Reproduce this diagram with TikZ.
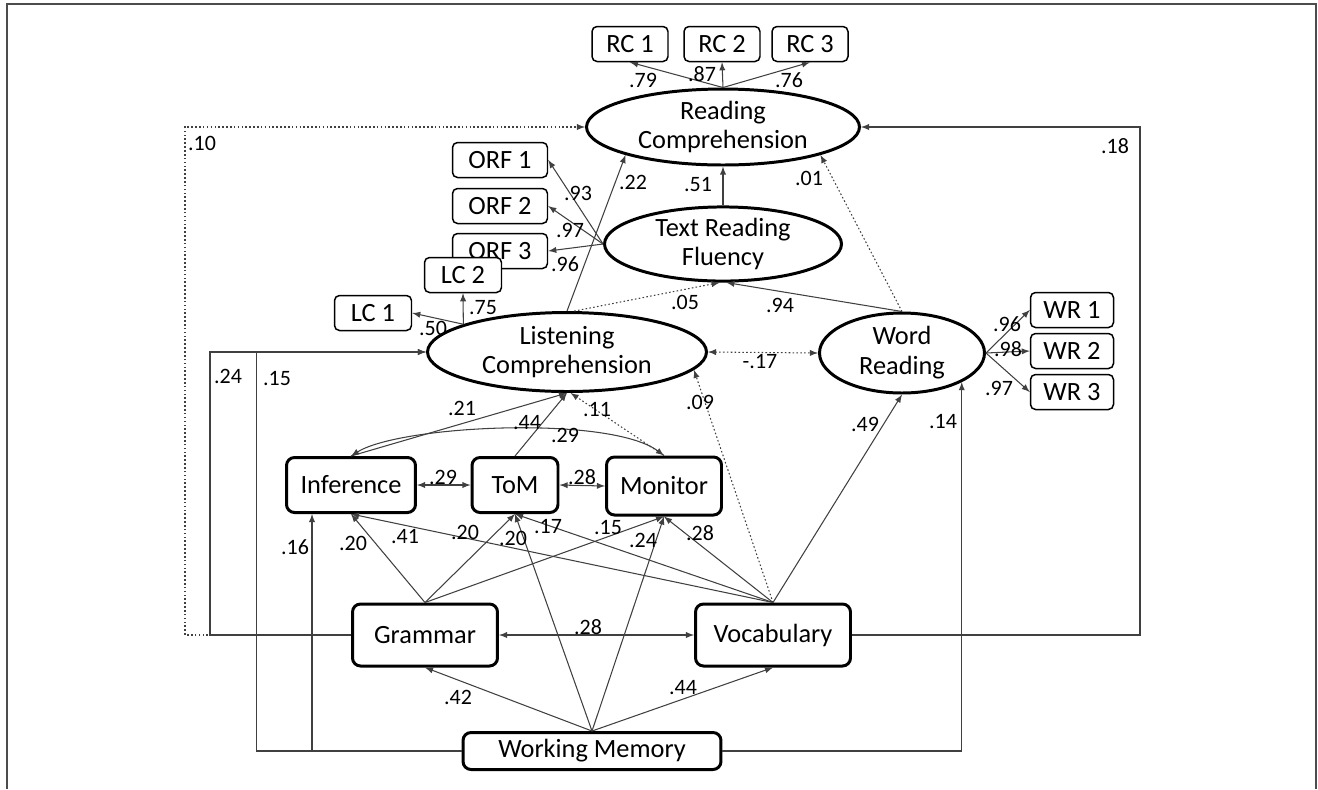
\documentclass[tikz,border=0pt]{standalone}
\usepackage{fontspec}
\setmainfont{Carlito}
\usetikzlibrary{shapes.geometric}

\begin{document}
\begin{tikzpicture}[x=0.02cm, y=-0.02cm,
    latent/.style={ellipse, draw, line width=1.7pt, inner sep=0pt, align=center, font=\fontsize{15}{17}\selectfont},
    factor/.style={rectangle, rounded corners=0.16cm, draw, line width=1.7pt, fill=white, minimum height=1.1cm, font=\fontsize{15}{17}\selectfont},
    ind/.style={rectangle, rounded corners=0.1cm, draw, line width=0.85pt, fill=white, minimum height=0.7cm, inner sep=0pt, font=\fontsize{15}{17}\selectfont},
    conn/.style={draw=black!75, line width=0.6pt},
    weak/.style={dash pattern=on 0.9pt off 1.3pt},
    lbl/.style={inner sep=0pt, font=\fontsize{12.5}{14}\selectfont}]
        \useasboundingbox (0,0) rectangle (1318,789);
        \draw[line width=0.8pt, black!70] (7,789) |- (1316,4) -- (1316,789);
        % latent variables
        \node[latent, minimum width=5.46cm, minimum height=1.52cm] (rc) at (723,127) {Reading\\Comprehension};
        \node[latent, minimum width=4.74cm, minimum height=1.48cm] (trf) at (723,244) {Text Reading\\Fluency};
        \node[latent, minimum width=5.58cm, minimum height=1.58cm] (lc) at (567,352) {Listening\\Comprehension};
        \node[latent, minimum width=3.3cm, minimum height=1.6cm] (wr) at (902,353) {Word\\Reading};
        % indicators
        \foreach \n/\x in {1/630, 2/722, 3/810} \node[ind, minimum width=1.52cm] (rc\n) at (\x,44) {RC \n};
        \foreach \n/\y in {1/160, 2/206, 3/251} \node[ind, minimum width=1.9cm] (orf\n) at (500,\y) {ORF \n};
        \node[ind, minimum width=1.54cm] (lc2) at (463,275) {LC 2};
        \node[ind, minimum width=1.54cm] (lc1) at (373,313) {LC 1};
        \foreach \n/\y in {1/310, 2/351, 3/392} \node[ind, minimum width=1.66cm] (wr\n) at (1072,\y) {WR \n};
        % observed predictors
        \node[factor, minimum width=2.58cm] (inf) at (351,485) {Inference};
        \node[factor, minimum width=1.72cm] (tom) at (515,485) {ToM};
        \node[factor, minimum width=2.3cm, minimum height=1.16cm] (mon) at (664,486) {Monitor};
        \node[factor, minimum width=2.9cm, minimum height=1.24cm] (gram) at (425,635) {Grammar};
        \node[factor, minimum width=3.1cm, minimum height=1.24cm] (voc) at (773,635) {Vocabulary};
        \node[factor, minimum width=5.16cm, minimum height=0.74cm] (wm) at (592,751) {Working Memory};
        % loadings
        \foreach \n in {1,2,3} \draw[conn, -latex] (rc.north) -- (rc\n.south);
        \foreach \n in {1,2,3} \draw[conn, -latex] (trf.west) -- (orf\n.east);
        \draw[conn, -latex] (lc.165) -- (lc1.east);
        \draw[conn, -latex] (lc.165) -- (lc2.south);
        \foreach \n in {1,2,3} \draw[conn, -latex] (wr.east) -- (wr\n.west);
        % paths
        \draw[conn, -latex] (trf.north) -- (rc.south);
        \draw[conn, -latex] (lc.north) -- (rc.196);
        \draw[conn, -latex, weak] (lc.80) -- (trf.265);
        \draw[conn, -latex] (wr.north) -- (trf.275);
        \draw[conn, -latex, weak] (wr.north) -- (rc.-16);
        \draw[conn, latex-latex, weak] (lc.east) -- (wr.west);
        \draw[conn, -latex] (inf.north) -- (lc.south);
        \draw[conn, -latex] (tom.north) -- (lc.south);
        \draw[conn, -latex, weak] (mon.north) -- (lc.275);
        \draw[conn, latex-latex] (inf.north) .. controls (400,425) and (610,415) .. (mon.north);
        \draw[conn, latex-latex] (inf.east) -- (tom.west);
        \draw[conn, latex-latex] (tom.east) -- (mon.west);
        \foreach \s in {gram, voc}
            \foreach \t in {inf, tom, mon} \draw[conn, -latex] (\s.north) -- (\t.south);
        \foreach \t in {tom, mon, gram, voc} \draw[conn, -latex] (wm.north) -- (\t.south);
        \draw[conn, latex-latex] (gram.east) -- (voc.west);
        \draw[conn, -latex, weak] (voc.north) -- (lc.-8);
        \draw[conn, -latex] (voc.north) -- (wr.south);
        \draw[conn, -latex, weak] (gram.west) -- ++(-166,0) |- (rc.west);
        \draw[conn, -latex] (gram.west) -- ++(-141,0) |- (lc.west);
        \draw[conn, -latex] (wm.west) -- ++(-205,0) |- (lc.west);
        \draw[conn, -latex] (wm.west) -| ([xshift=-0.78cm]inf.south);
        \draw[conn, -latex] (wm.east) -| (wr.-26);
        \draw[conn, -latex] (voc.east) -- ++(288,0) |- (rc.east);
        % coefficients
        \foreach \t/\x/\y [count=\i] in {.79/643/80, .87/702/74, .76/789/80, .10/202/143, .22/633/182,
            .51/698/185, .01/809/178, .18/1115/146, .93/578/193, .97/570/230, .96/565/264, .75/483/308,
            .50/433/328, .05/685/302, .94/780/305, -.17/760/362, .96/1007/324, .98/1008/349, .97/999/388,
            .24/228/376, .15/277/379, .21/462/408, .44/527/423, .11/597/410, .29/565/435, .09/700/402,
            .49/865/424, .14/943/422, .29/443/477, .28/582/477, .16/295/547, .20/353/543, .41/405/537,
            .20/465/532, .20/513/538, .17/548/527, .15/608/528, .24/643/540, .28/700/533, .28/588/627,
            .42/458/697, .44/683/688}
            \node[lbl] (coef\i) at (\x,\y) {\t};
    \end{tikzpicture}
\end{document}
